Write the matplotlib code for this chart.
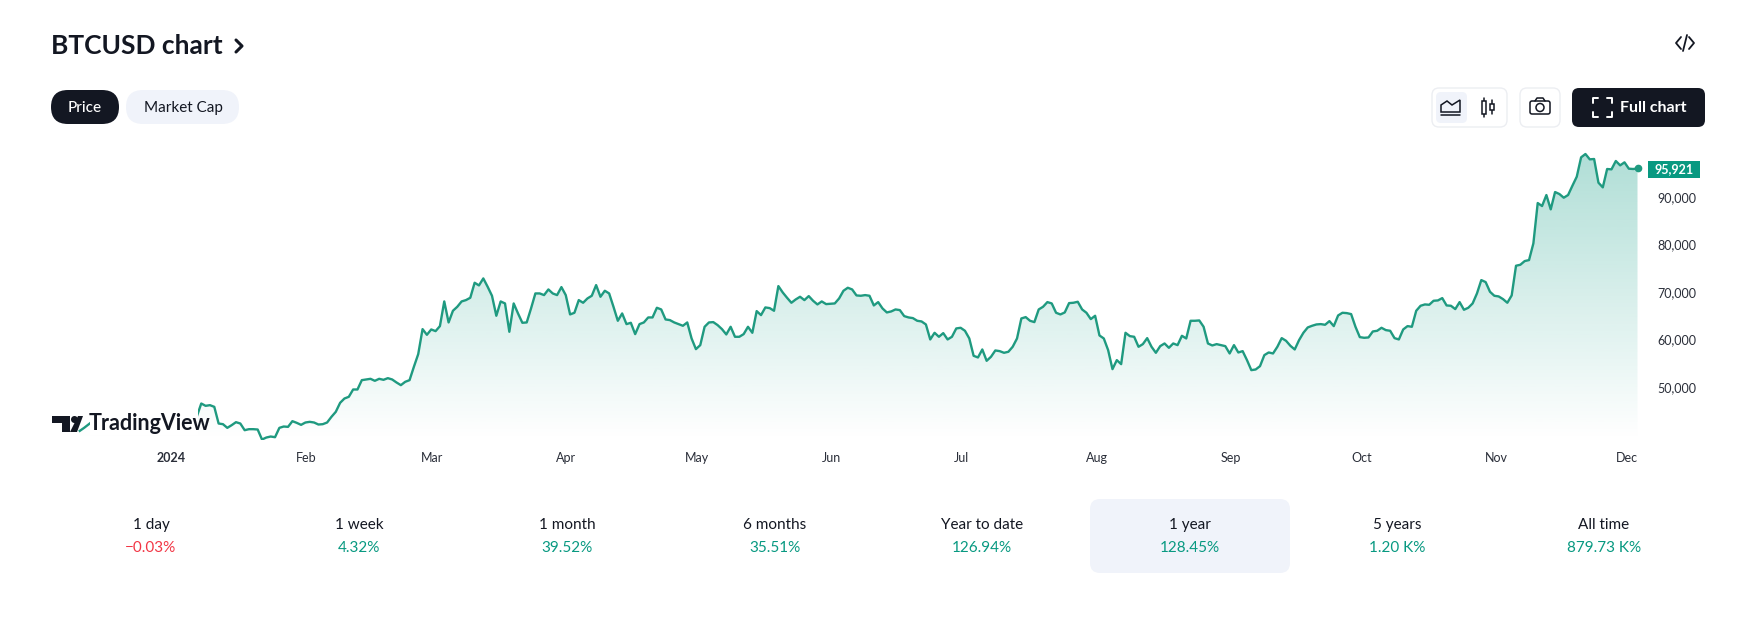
import numpy as np
import matplotlib
matplotlib.use("Agg")
import matplotlib.pyplot as plt
from matplotlib.patches import FancyBboxPatch, Rectangle, Polygon, Circle

plt.rcParams['font.family'] = ['Lato', 'DejaVu Sans']

# ---------- data ----------
first_day = -21   # days relative to 1 Jan 2024
day_step = 0.9986
prices = [
40860,41490,42200,42890,43600,43900,43500,43000,43700,43800,43300,42700,43600,43400,42600,42100,42300,43600,43400,42600,42300,
42300,44200,44950,42850,44200,44150,43940,
46600,46110,46250,45900,42400,42260,41490,42050,42680,42400,41000,41210,41210,41140,39040,39460,39670,39530,41490,41770,41700,42890,
42540,42120,42610,42750,42610,42190,42260,42610,43800,44850,46740,47650,48000,49540,49540,51500,51640,51780,51360,51780,51570,51920,
51640,51010,50450,51150,51500,54300,56960,62210,61020,62140,61790,62840,68020,63610,66060,66900,68020,68300,68790,71940,71380,72850,
71100,69210,65010,68020,67600,61650,67600,65500,63540,63610,66550,69700,69700,69350,70540,69700,69350,71030,69350,65290,65640,68300,
67740,68650,69210,71450,69000,70260,69700,66900,63960,65500,63260,63540,61160,63260,63610,64660,64660,66690,66340,64240,64100,63610,
63260,62910,63610,60250,58010,58850,62700,63610,63680,63050,62210,61090,62700,60600,60600,61160,62700,61440,65990,65150,66760,66620,
66060,71240,69910,68790,67740,68440,69000,68300,69140,68160,67390,68020,67460,67530,67600,68650,70260,70890,70540,69280,69210,69350,
69210,67180,67880,66550,65710,65920,66340,66200,64940,64660,64520,63960,63820,63190,60040,61440,60600,61370,60040,60600,62350,62490,
61860,60250,56610,56260,57940,55560,56400,57730,57590,57240,57450,58500,60250,64450,64730,63960,63680,66340,66900,67880,67600,65640,
65290,65710,67670,67740,67950,66340,65640,64310,65010,60880,60250,57800,53810,55700,54860,61440,60740,60600,58500,59060,60320,58500,
57240,
58640,59200,58290,59200,58850,60810,60250,63960,63960,64030,62700,59200,58780,59060,58850,58640,57100,58850,57310,57590,55700,53600,
53740,54440,56750,57310,57100,58500,60320,59760,58710,57940,59900,61440,62560,62910,63190,63260,63120,63890,62840,65080,65640,65570,
65360,62700,60530,60390,60460,61720,61860,62490,62000,61860,60320,60040,62140,62840,62700,66060,67110,67390,67320,68160,68230,68720,
67180,67110,66410,67880,66270,66690,67600,69700,72500,72080,70050,69210,69070,68510,67740,69280,75510,75720,76490,76700,80200,88670,
88040,90350,87340,90980,90560,89790,90350,92310,94200,98260,98960,97840,97910,92940,91960,95810,95740,97490,96580,97210,95880,95810,
95921]
month_days = [0, 31, 60, 91, 121, 152, 182, 213, 244, 274, 305, 335]
month_labels = ['2024', 'Feb', 'Mar', 'Apr', 'May', 'Jun', 'Jul', 'Aug', 'Sep', 'Oct', 'Nov', 'Dec']
price_ticks = [50000, 60000, 70000, 80000, 90000]
periods = ['1 day', '1 week', '1 month', '6 months', 'Year to date', '1 year', '5 years', 'All time']
changes = ['−0.03%', '4.32%', '39.52%', '35.51%', '126.94%', '128.45%', '1.20 K%', '879.73 K%']
change_up = [False, True, True, True, True, True, True, True]

days = first_day + np.arange(len(prices)) * day_step

W, H = 1737, 617
GREEN = '#089981'
LINE = '#1f9a80'
DARK = '#131722'
PALE = '#f0f3fa'

fig = plt.figure(figsize=(W / 100, H / 100), dpi=100, facecolor='white')

# ---------- chart ----------
L, R, T, B = 60, 1641, 145, 440
ax = fig.add_axes([L / W, 1 - B / H, (R - L) / W, (B - T) / H])
xlim = (-25.55, 338.3)
ylim = (38940, 100850)
ax.set_xlim(*xlim)
ax.set_ylim(*ylim)
for s in ax.spines.values():
    s.set_visible(False)
ax.patch.set_alpha(0)

grad = np.zeros((256, 1, 4))
grad[..., 0], grad[..., 1], grad[..., 2] = 8 / 255, 153 / 255, 129 / 255
grad[:, 0, 3] = np.linspace(0.33, 0.0, 256)
im = ax.imshow(grad, extent=(xlim[0], xlim[1], ylim[0], ylim[1]), origin='upper', aspect='auto', zorder=1)
poly = Polygon(list(zip(days, prices)) + [(days[-1], ylim[0]), (days[0], ylim[0])], closed=True,
               transform=ax.transData, fc='none', ec='none')
ax.add_patch(poly)
im.set_clip_path(poly)
ax.set_xlim(*xlim)
ax.set_ylim(*ylim)

ax.plot(days, prices, color=LINE, lw=1.7, solid_joinstyle='round', zorder=3)
ax.plot(days[-1], prices[-1], 'o', color=LINE, ms=4.5, clip_on=False, zorder=4)

ax.set_xticks(month_days)
ax.set_xticklabels(month_labels, fontsize=9, color='#2a2e39')
ax.get_xticklabels()[0].set_fontweight('bold')
ax.tick_params(axis='x', length=0, pad=9)
ax.yaxis.tick_right()
ax.set_yticks(price_ticks)
ax.set_yticklabels([f'{v:,}' for v in price_ticks], fontsize=9, color='#2a2e39')
ax.tick_params(axis='y', length=0, pad=12)

# ---------- overlay in pixel coordinates ----------
ov = fig.add_axes([0, 0, 1, 1], zorder=5)
ov.set_xlim(0, W)
ov.set_ylim(H, 0)
ov.axis('off')
ov.patch.set_alpha(0)


def box(x0, y0, x1, y1, r, fc, ec='none', lw=1):
    ov.add_patch(FancyBboxPatch((x0 + r, y0 + r), x1 - x0 - 2 * r, y1 - y0 - 2 * r,
                                boxstyle=f'round,pad={r},rounding_size={r}', fc=fc, ec=ec, lw=lw))


def stroke(xs, ys, color=DARK, lw=1.2):
    ov.plot(xs, ys, color=color, lw=lw, solid_capstyle='round', solid_joinstyle='round')


# title
ov.text(51, 45.5, 'BTCUSD chart', fontsize=19, fontweight='bold', color=DARK, va='center', ha='left')
stroke([236, 242, 236], [40, 46, 52], lw=2.2)
# embed icon
stroke([1681, 1676, 1681], [37, 43, 49], lw=1.3)
stroke([1689, 1694, 1689], [37, 43, 49], lw=1.3)
stroke([1687, 1683], [35, 51], lw=1.3)

# pills
box(51, 90, 119, 124, 17, DARK)
ov.text(85, 108, 'Price', fontsize=11, fontweight='medium', color='white', ha='center', va='center')
box(126, 90, 239, 124, 17, PALE)
ov.text(183, 108, 'Market Cap', fontsize=11, color=DARK, ha='center', va='center')

# right-hand buttons
box(1432, 88, 1507, 127, 7, 'white', ec='#eceef2')
box(1436, 92, 1467, 123, 5, PALE)
ov.add_patch(Polygon([(1441, 112), (1441, 105), (1447, 101), (1452, 105), (1460, 100), (1460, 112)],
                     closed=True, fc='none', ec=DARK, lw=1.1))
stroke([1441, 1460], [114.5, 114.5], lw=1.1)
for cx, top, bot, h0, h1 in [(1484, 98, 117, 101, 114), (1492, 100, 114, 104, 110)]:
    stroke([cx, cx], [top, bot], lw=1.1)
    ov.add_patch(Rectangle((cx - 2, h0), 4, h1 - h0, fc='white', ec=DARK, lw=1.1, zorder=3))
box(1520, 88, 1560, 127, 7, 'white', ec='#eceef2')
ov.add_patch(FancyBboxPatch((1530, 101), 20, 13, boxstyle='round,pad=0,rounding_size=2', fc='none', ec=DARK, lw=1.1))
stroke([1535, 1537, 1543, 1545], [101, 98, 98, 101], lw=1.1)
ov.add_patch(Circle((1540, 107.5), 4, fc='none', ec=DARK, lw=1.1))
box(1572, 88, 1705, 127, 7, DARK)
for sx, sy in [(-1, -1), (1, -1), (-1, 1), (1, 1)]:
    cx, cy = 1602 + sx * 9.5, 107 + sy * 9.5
    stroke([cx - sx * 5, cx, cx], [cy, cy, cy - sy * 5], color='white', lw=1.4)
ov.text(1653, 108, 'Full chart', fontsize=11.5, fontweight='bold', color='white', ha='center', va='center')

# last-price label
ov.add_patch(Rectangle((1648, 161), 52, 17, fc=GREEN, ec='none'))
ov.text(1674, 169.5, f'{prices[-1]:,}', fontsize=9, fontweight='bold', color='white', ha='center', va='center')

# TradingView logo sits on a white patch that hides the line
ov.add_patch(Rectangle((90, 408), 108, 27, fc='white', ec='none'))
ov.add_patch(Polygon([(52, 416), (70, 416), (70, 432), (62, 432), (62, 423), (52, 423)], closed=True, fc=DARK, ec='none'))
ov.add_patch(Circle((74.5, 419.5), 3.5, fc=DARK, ec='none'))
ov.add_patch(Polygon([(70, 432), (78, 416), (83, 416), (77, 432)], closed=True, fc=DARK, ec='none'))
ov.text(89, 423, 'TradingView', fontsize=15.5, fontweight='bold', color=DARK, ha='left', va='center')

# period strip
box(1090, 499, 1290, 573, 10, PALE)
centers = [151, 359, 567, 775, 982, 1190, 1397, 1604]
for cx, p, c, up in zip(centers, periods, changes, change_up):
    ov.text(cx, 525, p, fontsize=11, color=DARK, ha='center', va='center')
    ov.text(cx, 548, c, fontsize=11, color=GREEN if up else '#f23645', ha='center', va='center')

fig.savefig('out.png', dpi=100, facecolor='white')
